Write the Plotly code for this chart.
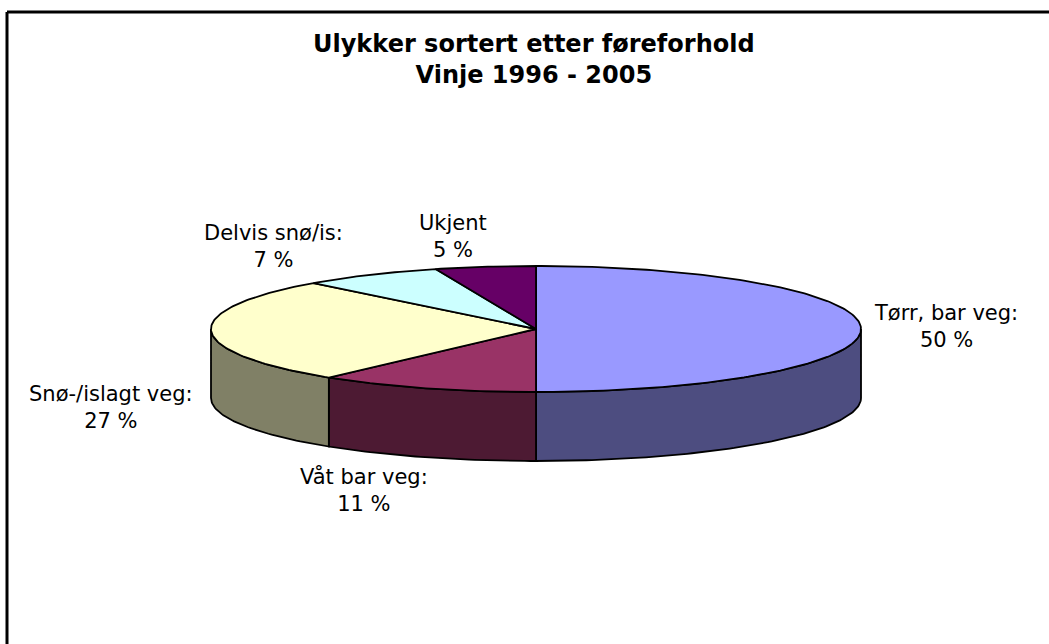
import math
import plotly.graph_objects as go

# ---- data ----
categories = ["Tørr, bar veg:", "Våt bar veg:", "Snø-/islagt veg:", "Delvis snø/is:", "Ukjent"]
values = [50, 11, 27, 7, 5]  # percent
top_colors = ["#9999FF", "#993366", "#FFFFCC", "#CCFFFF", "#660066"]
side_colors = ["#4D4D80", "#4D1A33", "#808066", "#668080", "#330033"]

# ---- layout / geometry (pixels) ----
W, H = 1049, 644
CX, CY, RX, RY, DEPTH = 536, 329, 325, 63, 69
label_pos = [(946, 326), (364, 490), (111, 407), (273, 246), (453, 236)]
LABEL_FONT = "DejaVu Sans, Verdana, sans-serif"


def pt(theta_deg, dy=0.0):
    t = math.radians(theta_deg)
    return CX + RX * math.sin(t), CY - RY * math.cos(t) + dy


def arc(a0, a1, dy=0.0, step=1.0):
    n = max(2, int(abs(a1 - a0) / step) + 1)
    xs, ys = [], []
    for i in range(n + 1):
        a = a0 + (a1 - a0) * i / n
        x, y = pt(a, dy)
        xs.append(x)
        ys.append(y)
    return xs, ys


fig = go.Figure()
total = sum(values)
angles = [0.0]
for v in values:
    angles.append(angles[-1] + 360.0 * v / total)

# side walls (front half: 90..270 deg clockwise from top)
for i in range(len(values)):
    s0, s1 = max(angles[i], 90.0), min(angles[i + 1], 270.0)
    if s1 <= s0:
        continue
    tx, ty = arc(s0, s1)
    bx, by = arc(s1, s0, DEPTH)
    xs = tx + bx + [tx[0]]
    ys = ty + by + [ty[0]]
    fig.add_trace(go.Scatter(x=xs, y=ys, mode="lines", fill="toself",
                             fillcolor=side_colors[i],
                             line=dict(color="black", width=1.8),
                             hoverinfo="skip", showlegend=False))

# top faces
for i in range(len(values)):
    ax_, ay_ = arc(angles[i], angles[i + 1])
    xs = [CX] + ax_ + [CX]
    ys = [CY] + ay_ + [CY]
    fig.add_trace(go.Scatter(x=xs, y=ys, mode="lines", fill="toself",
                             fillcolor=top_colors[i],
                             line=dict(color="black", width=1.8),
                             name=categories[i], hoverinfo="name",
                             showlegend=False))

# labels
for i, cat in enumerate(categories):
    lx, ly = label_pos[i]
    fig.add_annotation(x=lx, y=ly, xref="x", yref="y", showarrow=False,
                       text=f"{cat}<br>{values[i]} %",
                       font=dict(family=LABEL_FONT, size=21, color="black"),
                       align="center", xanchor="center", yanchor="middle")

# title
fig.add_annotation(x=534, y=59, xref="x", yref="y", showarrow=False,
                   text="<b>Ulykker sortert etter føreforhold</b><br><b>Vinje 1996 - 2005</b>",
                   font=dict(family=LABEL_FONT, size=24, color="black"),
                   align="center", xanchor="center", yanchor="middle")

# chart border (top and left edges visible)
fig.add_shape(type="line", x0=7, y0=12, x1=W + 5, y1=12, xref="x", yref="y",
              line=dict(color="black", width=3))
fig.add_shape(type="line", x0=7, y0=12, x1=7, y1=H + 5, xref="x", yref="y",
              line=dict(color="black", width=3))

fig.update_layout(
    width=W, height=H,
    margin=dict(l=0, r=0, t=0, b=0),
    paper_bgcolor="white", plot_bgcolor="white",
    xaxis=dict(range=[0, W], visible=False, fixedrange=True),
    yaxis=dict(range=[H, 0], visible=False, fixedrange=True),
)

fig.write_html("out.html", config={"displayModeBar": False},
               post_script="document.body.style.margin='0';")
